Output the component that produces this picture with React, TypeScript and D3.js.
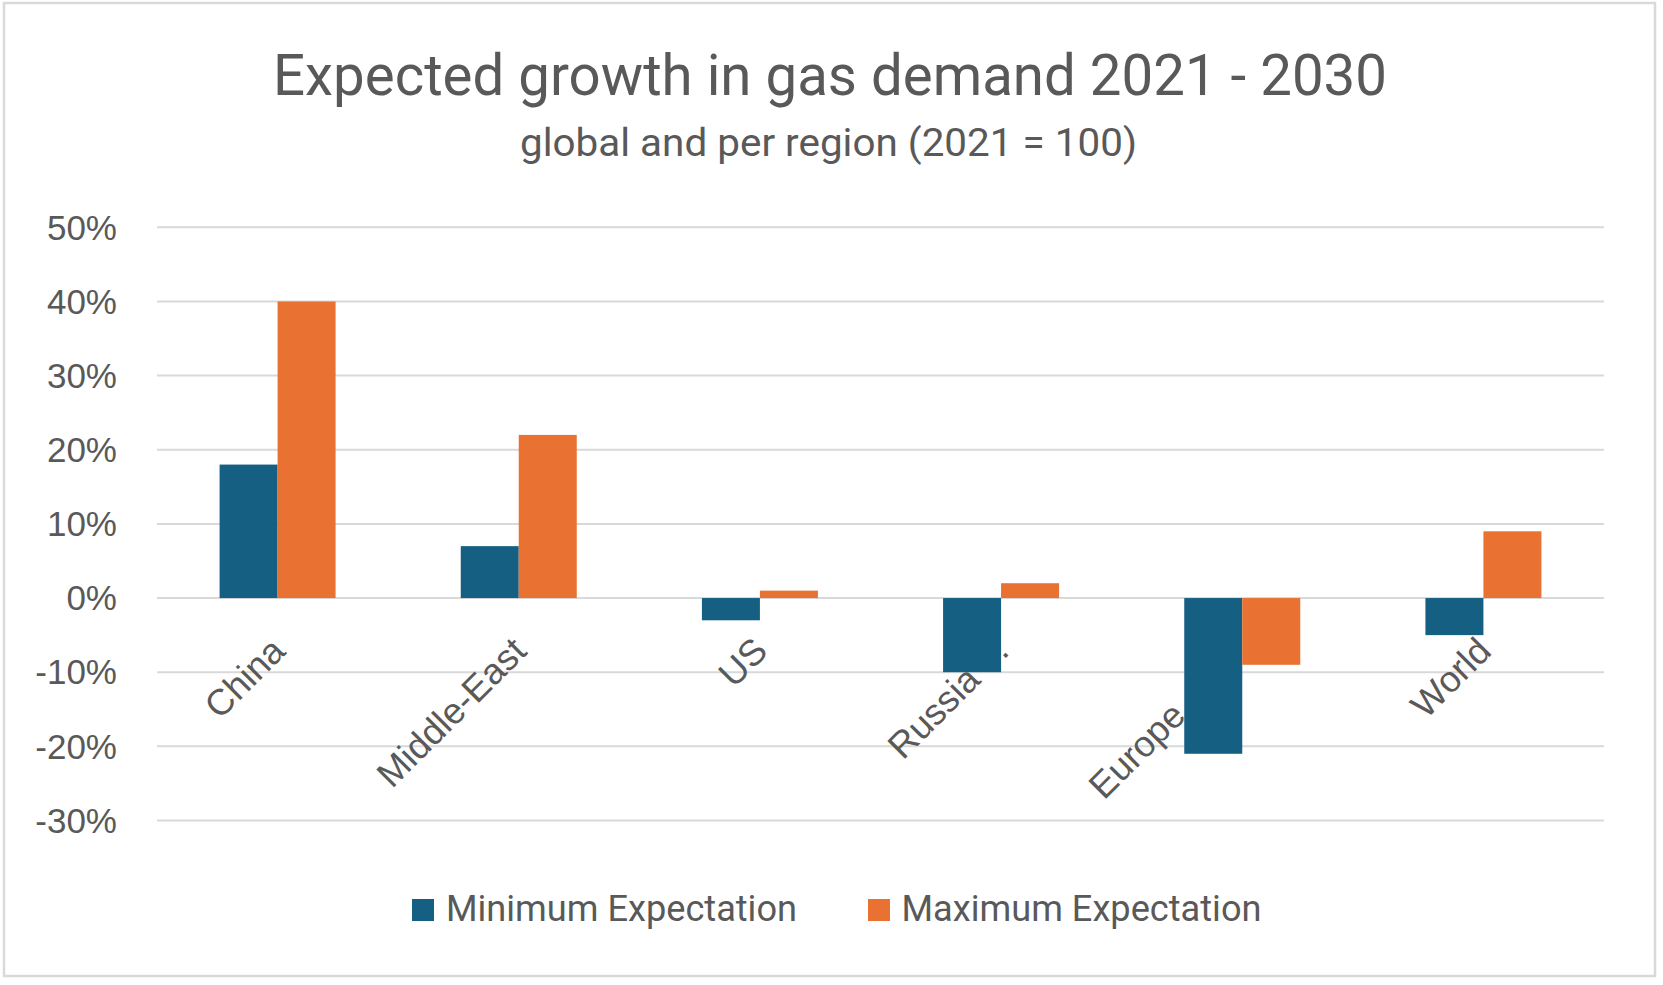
import React, { useEffect, useRef } from 'react';
import * as d3 from 'd3';

// regions; Russia and Europe carry trailing spaces + "." in the source sheet
const categories = ['China', 'Middle-East', 'US', 'Russia   .', 'Europe        .', 'World'];
const minExpectation = [0.18, 0.07, -0.03, -0.10, -0.21, -0.05];
const maxExpectation = [0.40, 0.22, 0.01, 0.02, -0.09, 0.09];
const seriesNames = ['Minimum Expectation', 'Maximum Expectation'];
const yTicks = [-0.3, -0.2, -0.1, 0, 0.1, 0.2, 0.3, 0.4, 0.5];

const COLORS = ['#156082', '#E97132'];
const TEXT = '#595959';
const GRID = '#D9D9D9';
const TITLE_FONT = 'Roboto, "Noto Sans", sans-serif';
const AXIS_FONT = '"Liberation Sans", Arial, sans-serif';

function GasDemandChart() {
  const svgRef = useRef<SVGSVGElement>(null);

  useEffect(() => {
    const width = 1663;
    const height = 985;
    const svg = d3.select(svgRef.current);
    svg.selectAll('*').remove();
    svg.attr('width', width).attr('height', height);

    // chart area frame
    svg.append('rect')
      .attr('x', 4).attr('y', 3)
      .attr('width', 1651).attr('height', 973)
      .attr('fill', '#fff')
      .attr('stroke', GRID)
      .attr('stroke-width', 2.5);

    const plot = { left: 157, right: 1604, top: 227.3, bottom: 820.5 };

    const x0 = d3.scaleBand()
      .domain(categories)
      .range([plot.left, plot.right])
      .paddingInner(0.519)
      .paddingOuter(0.2595);

    const x1 = d3.scaleBand()
      .domain(seriesNames)
      .range([0, x0.bandwidth()]);

    const y = d3.scaleLinear()
      .domain([-0.3, 0.5])
      .range([plot.bottom, plot.top]);

    const fmt = d3.formatLocale({
      decimal: '.', thousands: ',', grouping: [3], currency: ['$', ''], minus: '-',
    }).format('.0%');

    // gridlines
    svg.append('g')
      .selectAll('line')
      .data(yTicks)
      .join('line')
      .attr('x1', plot.left)
      .attr('x2', plot.right)
      .attr('y1', (d) => y(d))
      .attr('y2', (d) => y(d))
      .attr('stroke', GRID)
      .attr('stroke-width', 2);

    // y tick labels
    svg.append('g')
      .selectAll('text')
      .data(yTicks)
      .join('text')
      .attr('x', 117)
      .attr('y', (d) => y(d))
      .attr('dy', '0.35em')
      .attr('text-anchor', 'end')
      .attr('font-family', AXIS_FONT)
      .attr('font-size', 35)
      .attr('fill', TEXT)
      .text((d) => fmt(d));

    // category labels (drawn under bars)
    svg.append('g')
      .selectAll('text')
      .data(categories)
      .join('text')
      .attr('transform', (d) => {
        const cx = (x0(d) as number) + x0.bandwidth() / 2 + 9.6;
        const cy = y(0) + 55;
        return `translate(${cx},${cy}) rotate(-45)`;
      })
      .attr('text-anchor', 'end')
      .attr('font-family', AXIS_FONT)
      .attr('font-size', 36.5)
      .attr('fill', TEXT)
      .style('white-space', 'pre')
      .text((d) => d);

    // bars
    const rows = categories.map((c, i) => ({ c, vals: [minExpectation[i], maxExpectation[i]] }));
    svg.append('g')
      .selectAll('g')
      .data(rows)
      .join('g')
      .attr('transform', (d) => `translate(${x0(d.c)},0)`)
      .selectAll('rect')
      .data((d) => d.vals.map((v, k) => ({ v, k })))
      .join('rect')
      .attr('x', (d) => x1(seriesNames[d.k]) as number)
      .attr('width', x1.bandwidth())
      .attr('y', (d) => Math.min(y(d.v), y(0)))
      .attr('height', (d) => Math.abs(y(d.v) - y(0)))
      .attr('fill', (d) => COLORS[d.k]);

    // titles
    svg.append('text')
      .attr('x', 830).attr('y', 95)
      .attr('text-anchor', 'middle')
      .attr('font-family', TITLE_FONT)
      .attr('font-size', 57)
      .attr('fill', TEXT)
      .attr('textLength', 1114)
      .attr('lengthAdjust', 'spacingAndGlyphs')
      .text('Expected growth in gas demand 2021 - 2030');

    svg.append('text')
      .attr('x', 828.5).attr('y', 156)
      .attr('text-anchor', 'middle')
      .attr('font-family', TITLE_FONT)
      .attr('font-size', 38)
      .attr('fill', TEXT)
      .attr('textLength', 617)
      .attr('lengthAdjust', 'spacingAndGlyphs')
      .text('global and per region (2021 = 100)');

    // legend
    const legendItems = [
      { name: seriesNames[0], color: COLORS[0], sx: 412, tx: 446, len: 351 },
      { name: seriesNames[1], color: COLORS[1], sx: 868, tx: 901.5, len: 360 },
    ];
    const legend = svg.append('g');
    legend.selectAll('rect')
      .data(legendItems)
      .join('rect')
      .attr('x', (d) => d.sx)
      .attr('y', 899)
      .attr('width', 22)
      .attr('height', 22)
      .attr('fill', (d) => d.color);
    legend.selectAll('text')
      .data(legendItems)
      .join('text')
      .attr('x', (d) => d.tx)
      .attr('y', 920.7)
      .attr('font-family', TITLE_FONT)
      .attr('font-size', 37)
      .attr('fill', TEXT)
      .attr('textLength', (d) => d.len)
      .attr('lengthAdjust', 'spacingAndGlyphs')
      .text((d) => d.name);
  }, []);

  return <svg ref={svgRef} style={{ position: 'absolute', left: 0, top: 0 }}></svg>;
}

export default function App() {
  return <GasDemandChart />;
}
